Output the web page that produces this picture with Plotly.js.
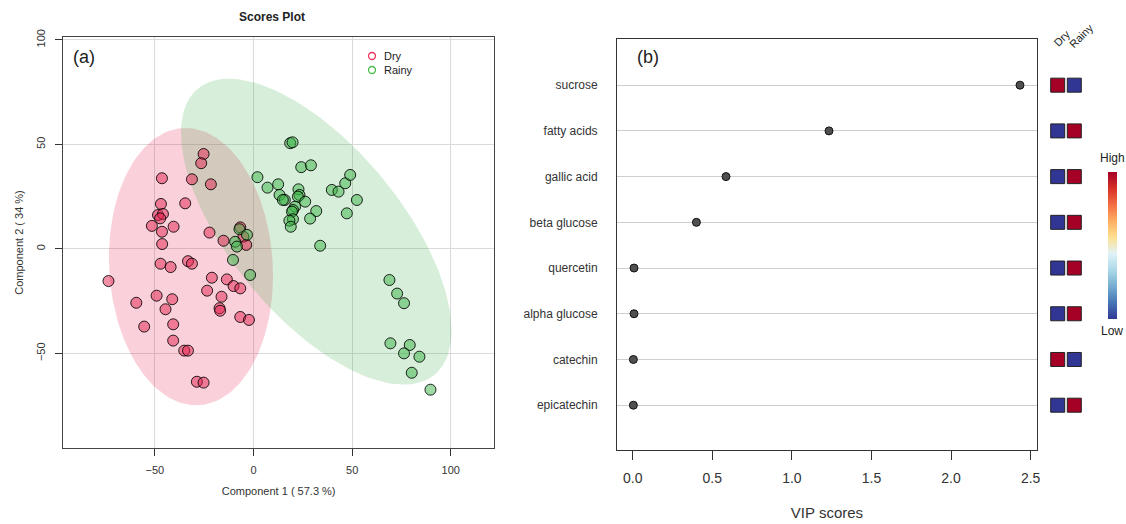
<!DOCTYPE html>
<html><head><meta charset="utf-8">
<script src="https://cdn.plot.ly/plotly-3.0.1.min.js"></script>
<style>body{margin:0;background:#fff}#chart{width:1126px;height:524px}</style>
</head><body><div id="chart"></div>
<script>
// ---- Scores plot data (Component 1 / Component 2) ----
const dryX = [-25.3,-26.5,-46.4,-31.2,-21.6,-34.6,-46.9,-48.4,-45.9,-47.3,-51.5,-40.5,-46.4,-22.3,-15.2,-6.7,-5.1,-3.7,-46.3,-47.1,-42.0,-33.2,-31.2,-73.5,-21.1,-13.5,-10.1,-6.7,-23.5,-16.2,-49.1,-41.2,-59.4,-44.6,-17.2,-16.9,-6.7,-2.3,-55.4,-40.7,-40.7,-35.1,-33.2,-28.7,-25.3];
const dryY = [45.4,41.0,33.8,33.3,30.9,21.8,21.5,16.2,16.7,14.6,11.0,10.6,8.2,7.8,3.9,10.3,5.8,1.9,2.3,-7.1,-8.7,-5.9,-7.1,-15.4,-13.8,-14.6,-17.8,-18.9,-20.0,-22.9,-22.4,-24.1,-25.8,-28.9,-28.4,-29.6,-32.6,-34.0,-37.2,-36.1,-43.9,-48.7,-48.7,-63.6,-64.0];
const rainyX = [18.6,19.8,24.2,29.1,2.0,7.1,12.5,13.2,15.9,14.9,22.8,23.3,22.5,26.2,21.1,20.0,19.5,31.8,28.7,20.0,18.2,18.9,39.7,43.1,46.5,49.0,52.4,47.3,33.8,-7.1,-3.3,-9.3,-8.4,-1.7,-10.4,68.9,72.8,76.3,69.4,79.2,76.3,84.1,80.2,89.7];
const rainyY = [50.6,51.0,39.1,40.0,34.3,29.3,30.9,25.8,23.4,23.4,28.5,25.8,25.0,22.6,20.2,18.6,17.8,18.1,14.5,14.2,13.5,10.6,28.2,27.4,31.4,35.4,23.4,17.0,1.5,9.4,6.7,3.4,1.1,-12.5,-5.3,-14.9,-21.4,-26.0,-45.2,-46.0,-50.0,-51.6,-59.3,-67.4];

// ---- VIP data ----
const compounds = ['sucrose','fatty acids','gallic acid','beta glucose','quercetin','alpha glucose','catechin','epicatechin'];
const vipScores = [2.433,1.233,0.586,0.400,0.008,0.008,0.004,0.004];
const groups = ['Dry','Rainy'];
const dryLevel = [1,0,0,0,0,0,1,0];   // 1 = High, 0 = Low
const rainyLevel = [0,1,1,1,1,1,0,1];

const W = 1126, H = 524;
const px = v => v / W, py = v => 1 - v / H;
const FONT = '"Liberation Sans", Arial, sans-serif';

function confEllipse(xs, ys, n) {
  const N = xs.length;
  const mx = xs.reduce((a,b)=>a+b,0)/N, my = ys.reduce((a,b)=>a+b,0)/N;
  let sxx=0, syy=0, sxy=0;
  for (let i=0;i<N;i++){ const dx=xs[i]-mx, dy=ys[i]-my; sxx+=dx*dx; syy+=dy*dy; sxy+=dx*dy; }
  sxx/=(N-1); syy/=(N-1); sxy/=(N-1);
  const t = Math.sqrt(5.991464547);
  const a = Math.sqrt(sxx), b = sxy/a, c = Math.sqrt(syy - b*b);
  const ex=[], ey=[];
  for (let k=0;k<=n;k++){ const th=2*Math.PI*k/n; ex.push(mx + t*a*Math.cos(th)); ey.push(my + t*(b*Math.cos(th)+c*Math.sin(th))); }
  return {x:ex, y:ey};
}
const eDry = confEllipse(dryX, dryY, 160);
const eRainy = confEllipse(rainyX, rainyY, 160);

const rowsBottomUp = compounds.slice().reverse();

const traces = [
  {type:'scatter', mode:'lines', x:eDry.x, y:eDry.y, fill:'toself', fillcolor:'rgba(228,25,75,0.2)', line:{width:0}, hoverinfo:'skip', showlegend:false, xaxis:'x', yaxis:'y'},
  {type:'scatter', mode:'lines', x:eRainy.x, y:eRainy.y, fill:'toself', fillcolor:'rgba(55,170,70,0.2)', line:{width:0}, hoverinfo:'skip', showlegend:false, xaxis:'x', yaxis:'y'},
  {type:'scatter', mode:'markers', name:'Dry', x:dryX, y:dryY, marker:{size:11, color:'rgba(225,35,80,0.5)', line:{color:'rgba(0,0,0,0.85)', width:1}}, showlegend:false, xaxis:'x', yaxis:'y'},
  {type:'scatter', mode:'markers', name:'Rainy', x:rainyX, y:rainyY, marker:{size:11, color:'rgba(60,180,70,0.5)', line:{color:'rgba(0,0,0,0.85)', width:1}}, showlegend:false, xaxis:'x', yaxis:'y'},
  {type:'scatter', mode:'markers', x:vipScores, y:compounds, marker:{size:8, color:'#505050', line:{color:'#111', width:1}}, showlegend:false, xaxis:'x2', yaxis:'y2'},
  {type:'scatter', mode:'markers',
   x: compounds.map(()=>groups[0]).concat(compounds.map(()=>groups[1])),
   y: compounds.concat(compounds),
   marker:{symbol:'square', size:14, color: dryLevel.concat(rainyLevel), cmin:0, cmax:1,
     colorscale:[[0,'#313695'],[0.111,'#4575B4'],[0.222,'#74ADD1'],[0.333,'#ABD9E9'],[0.444,'#E0F3F8'],[0.556,'#FEE090'],[0.667,'#FDAE61'],[0.778,'#F46D43'],[0.889,'#D73027'],[1,'#A50026']],
     line:{color:'#222', width:1},
     showscale:true,
     colorbar:{x:px(1108), xanchor:'left', y:py(245), yanchor:'middle', len:147, lenmode:'pixels', thickness:9, outlinewidth:0, showticklabels:false, ticks:'', xpad:0, ypad:0}},
   showlegend:false, xaxis:'x3', yaxis:'y3'}
];

const ann = (text, x, y, size, extra) => Object.assign({text, x:px(x), y:py(y), xref:'paper', yref:'paper', showarrow:false, font:{family:FONT, size, color:'#222'}, xanchor:'center', yanchor:'middle'}, extra||{});

const layout = {
  width: W, height: H,
  margin:{l:0,r:0,t:0,b:0},
  paper_bgcolor:'#fff', plot_bgcolor:'#fff',
  font:{family:FONT, color:'#222'},
  showlegend:false,
  xaxis:{domain:[px(63.3), px(494)], range:[-96.4,121.9], tickvals:[-50,0,50,100], ticks:'outside', ticklen:7, tickcolor:'#333', showgrid:true, gridcolor:'#DADADA', zeroline:false,
    showline:true, mirror:true, linecolor:'#444', linewidth:1.3, tickfont:{size:11, color:'#333'}, ticklabelstandoff:4,
    title:{text:'Component 1 ( 57.3 %)', font:{size:11, color:'#333'}, standoff:12}, anchor:'y'},
  yaxis:{domain:[py(448), py(37)], range:[-95.3,101.4], tickvals:[-50,0,50,100], ticks:'outside', ticklen:7, tickcolor:'#333', showgrid:true, gridcolor:'#DADADA', zeroline:false,
    showline:true, mirror:true, linecolor:'#444', linewidth:1.3, tickfont:{size:11, color:'#333'}, tickangle:-90, ticklabelstandoff:6,
    title:{text:'Component 2 ( 34 %)', font:{size:11, color:'#333'}, standoff:8}, anchor:'x'},
  xaxis2:{domain:[px(617.3), px(1036.7)], range:[-0.097,2.538], tickvals:[0,0.5,1,1.5,2,2.5], ticktext:['0.0','0.5','1.0','1.5','2.0','2.5'], ticks:'outside', ticklen:9, tickcolor:'#333',
    showgrid:false, zeroline:false, showline:true, mirror:true, linecolor:'#333', linewidth:1.3, tickfont:{size:14, color:'#333'}, ticklabelstandoff:6,
    title:{text:'VIP scores', font:{size:15, color:'#333'}, standoff:22}, anchor:'y2'},
  yaxis2:{domain:[py(450), py(39)], type:'category', categoryorder:'array', categoryarray:rowsBottomUp, range:[-0.98,8.01], ticks:'', showgrid:true, gridcolor:'#CFCFCF', gridwidth:1,
    zeroline:false, showline:true, mirror:true, linecolor:'#333', linewidth:1.3, tickfont:{size:12, color:'#333'}, ticklabelstandoff:16, anchor:'x2'},
  xaxis3:{domain:[px(1049.4), px(1082.6)], type:'category', categoryorder:'array', categoryarray:groups, range:[-0.5,1.5], visible:false, anchor:'y3'},
  yaxis3:{domain:[py(450), py(39)], type:'category', categoryorder:'array', categoryarray:rowsBottomUp, range:[-0.98,8.01], visible:false, showgrid:false, anchor:'x3'},
  shapes:[
    {type:'circle', xref:'paper', yref:'paper', xsizemode:'pixel', ysizemode:'pixel', xanchor:px(372), yanchor:py(56), x0:-3.5, x1:3.5, y0:-3.5, y1:3.5, line:{color:'#E8365E', width:1.3}},
    {type:'circle', xref:'paper', yref:'paper', xsizemode:'pixel', ysizemode:'pixel', xanchor:px(372), yanchor:py(70), x0:-3.5, x1:3.5, y0:-3.5, y1:3.5, line:{color:'#4CBB4C', width:1.3}}
  ],
  annotations:[
    ann('<b>Scores Plot</b>', 272, 17, 12),
    ann('(a)', 84, 57, 18),
    ann('(b)', 648, 57, 18),
    ann('Dry', 382, 56, 11, {xanchor:'left'}),
    ann('Rainy', 382, 70, 11, {xanchor:'left'}),
    ann('Dry', 1062, 38, 11, {textangle:-45}),
    ann('Rainy', 1081, 36, 11, {textangle:-45}),
    ann('High', 1112, 158, 12),
    ann('Low', 1112, 331, 12)
  ]
};

Plotly.newPlot('chart', traces, layout, {staticPlot:true, displayModeBar:false});
</script>
</body></html>
